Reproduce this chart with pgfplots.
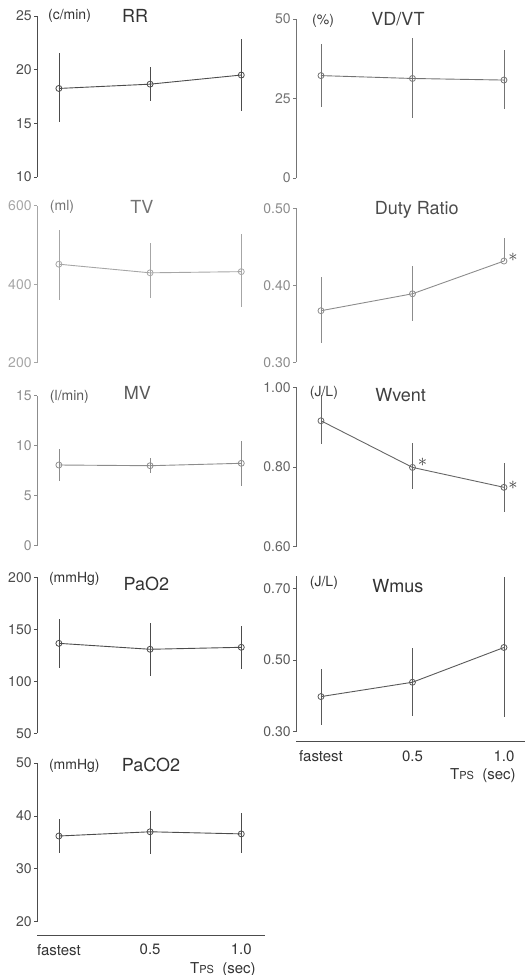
\documentclass[border=0pt]{standalone}
\usepackage{fontspec}
\setmainfont{TeX Gyre Heros}
\usepackage{pgfplots}
\usepackage{pgfplotstable}
\pgfplotsset{compat=1.18}

% x y ep em  (x: 0 = fastest, 1 = 0.5 s, 2 = 1.0 s)
\pgfplotstableread{
x y ep em
0 18.25 3.3 3.15
1 18.65 1.6 1.55
2 19.5 3.35 3.35
}\rr
\pgfplotstableread{
x y ep em
0 32.2 9.9 9.8
1 31.3 12.6 12.5
2 30.8 9.5 9.1
}\vdvt
\pgfplotstableread{
x y ep em
0 451 88 92
1 429 75 65
2 432 97 91
}\tv
\pgfplotstableread{
x y ep em
0 0.367 0.044 0.042
1 0.389 0.036 0.035
2 0.4315 0.030 0.0
}\duty
\pgfplotstableread{
x y ep em
0 8.07 1.6 1.6
1 8.0 0.74 0.76
2 8.24 2.23 2.24
}\mv
\pgfplotstableread{
x y ep em
0 0.916 0.064 0.059
1 0.799 0.060 0.055
2 0.749 0.061 0.063
}\wvent
\pgfplotstableread{
x y ep em
0 136.5 23 23.5
1 130.8 25 25.8
2 132.7 20 20.7
}\pao
\pgfplotstableread{
x y ep em
0 0.398 0.078 0.080
1 0.438 0.095 0.093
2 0.535 0.197 0.195
}\wmus
\pgfplotstableread{
x y ep em
0 36.2 3.2 3.3
1 37.0 4.0 4.2
2 36.6 3.9 3.7
}\paco

\newcommand\tickf{\fontsize{7}{8}\selectfont}
\newcommand\titf{\fontsize{9}{10}\selectfont}
\newcommand\unitf{\fontsize{7}{8}\selectfont}

\pgfplotsset{
  panel/.style={
    scale only axis, clip=false,
    anchor=south west,
    axis x line=none, axis y line=left,
    axis line style={-, line width=0.4pt, draw=#1},
    xmin=-0.24, xmax=2.26, width=114pt,
    tick align=outside, major tick length=1.5pt,
    ytick style={draw=#1, line width=0.4pt},
    /pgf/number format/assume math mode=true,
    yticklabel style={font=\tickf, text=#1, inner xsep=1pt},
  },
  rcol/.style={xmin=-0.273, xmax=2.23, width=114.5pt},
  xbase/.style={
    scale only axis, anchor=south west,
    height=1pt, ymin=0, ymax=1,
    axis y line=none, axis x line=bottom,
    axis line style={-, line width=0.45pt, draw=black!70},
    xtick={0,1,2}, xticklabels={fastest,0.5,1.0},
    major tick length=0pt,
    xticklabel style={font=\fontsize{7.5}{8}\selectfont, text=black!80, yshift=-1pt},
    xlabel={T{\fontsize{5.5}{6}\selectfont PS}\ \ (sec)},
    xlabel style={font=\fontsize{7.5}{8}\selectfont, text=black!80,
      at={(axis description cs:0.99,0)}, anchor=north east, yshift=-10pt},
  },
}
% #1 colour, #2 table: error bars first, then line and open marks on top
\newcommand\plotit[2]{%
  \addplot[draw=none, mark=none,
    error bars/.cd, y dir=both, y explicit, error mark=none,
    error bar style={line width=0.35pt, draw=#1}]
    table[x=x, y=y, y error plus=ep, y error minus=em]{#2};
  \addplot[draw=#1, line width=0.45pt, mark=o, mark size=1.5pt,
    mark options={fill=white, solid, draw=#1, line width=0.4pt}]
    table[x=x, y=y]{#2};}

\begin{document}
\begin{tikzpicture}
\useasboundingbox (0,0) rectangle (264.5pt,-487.5pt);

% ---- left column ----
\begin{axis}[panel=black!70, at={(18.5pt,-88.5pt)}, height=80.5pt,
  ymin=10, ymax=25, ytick={10,15,20,25}]
\plotit{black!70}{\rr}
\node[font=\titf, text=black!80] at (axis description cs:0.43,1.0) {RR};
\node[font=\unitf, text=black!80, anchor=west] at (axis description cs:0.018,1.0) {(c/min)};
\end{axis}

\begin{axis}[panel=black!35, at={(18.5pt,-181.35pt)}, height=78.5pt,
  ymin=200, ymax=600, ytick={200,400,600}]
\plotit{black!35}{\tv}
\node[font=\titf, text=black!55] at (axis description cs:0.46,0.99) {TV};
\node[font=\unitf, text=black!55, anchor=west] at (axis description cs:0.026,0.99) {(ml)};
\end{axis}

\begin{axis}[panel=black!45, at={(18.5pt,-272.85pt)}, height=75pt,
  ymin=0, ymax=15, ytick={0,5,10,15}]
\plotit{black!45}{\mv}
\node[font=\titf, text=black!65] at (axis description cs:0.44,1.02) {MV};
\node[font=\unitf, text=black!65, anchor=west] at (axis description cs:0.026,0.99) {(l/min)};
\end{axis}

\begin{axis}[panel=black!70, at={(18.5pt,-366.65pt)}, height=78pt,
  ymin=50, ymax=200, ytick={50,100,150,200}]
\plotit{black!70}{\pao}
\node[font=\titf, text=black!80] at (axis description cs:0.48,0.957) {PaO2};
\node[font=\unitf, text=black!80, anchor=west] at (axis description cs:0.022,0.99) {(mmHg)};
\end{axis}

\begin{axis}[panel=black!70, at={(18.5pt,-460.85pt)}, height=79.35pt,
  ymin=20, ymax=50, ytick={20,30,40,50}]
\plotit{black!70}{\paco}
\node[font=\titf, text=black!80] at (axis description cs:0.5,0.99) {PaCO2};
\node[font=\unitf, text=black!80, anchor=west] at (axis description cs:0.022,0.98) {(mmHg)};
\end{axis}

\begin{axis}[xbase, at={(18.5pt,-467.5pt)}, width=114pt, xmin=-0.24, xmax=2.26]
\end{axis}

% ---- right column ----
\begin{axis}[panel=black!55, rcol, at={(148pt,-89pt)}, height=79.5pt,
  ymin=0, ymax=50, ytick={0,25,50}]
\plotit{black!55}{\vdvt}
\node[font=\titf, text=black!75] at (axis description cs:0.445,1.0) {VD/VT};
\node[font=\unitf, text=black!75, anchor=west] at (axis description cs:0.04,0.99) {(\%)};
\end{axis}

\begin{axis}[panel=black!45, rcol, at={(148pt,-181.15pt)}, height=77pt,
  ymin=0.30, ymax=0.50, ytick={0.30,0.40,0.50}, yticklabels={0.30,0.40,0.50}]
\plotit{black!45}{\duty}
\node[font=\titf, text=black!70] at (axis description cs:0.527,0.99) {Duty Ratio};
\node[font=\fontsize{9}{9}\selectfont, text=black!70] at (axis cs:2.1,0.436) {$\ast$};
\end{axis}

\begin{axis}[panel=black!60, rcol, at={(148pt,-273.35pt)}, height=79.7pt,
  ymin=0.60, ymax=1.00, ytick={0.60,0.80,1.00}, yticklabels={0.60,0.80,1.00}]
\plotit{black!60}{\wvent}
\node[font=\titf, text=black!75] at (axis description cs:0.457,0.95) {Wvent};
\node[font=\unitf, text=black!75, anchor=west] at (axis description cs:0.03,0.966) {(J/L)};
\node[font=\fontsize{9}{9}\selectfont, text=black!75] at (axis cs:1.11,0.811) {$\ast$};
\node[font=\fontsize{9}{9}\selectfont, text=black!75] at (axis cs:2.1,0.755) {$\ast$};
\end{axis}

\begin{axis}[panel=black!65, rcol, at={(148pt,-365.85pt)}, height=77.95pt,
  ymin=0.30, ymax=0.735, ytick={0.30,0.50,0.70}, yticklabels={0.30,0.50,0.70}]
\plotit{black!65}{\wmus}
\node[font=\titf, text=black!80] at (axis description cs:0.445,0.935) {Wmus};
\node[font=\unitf, text=black!80, anchor=west] at (axis description cs:0.03,0.954) {(J/L)};
\end{axis}

\begin{axis}[xbase, at={(148pt,-370.85pt)}, width=114.5pt, xmin=-0.273, xmax=2.23]
\end{axis}

\end{tikzpicture}
\end{document}
